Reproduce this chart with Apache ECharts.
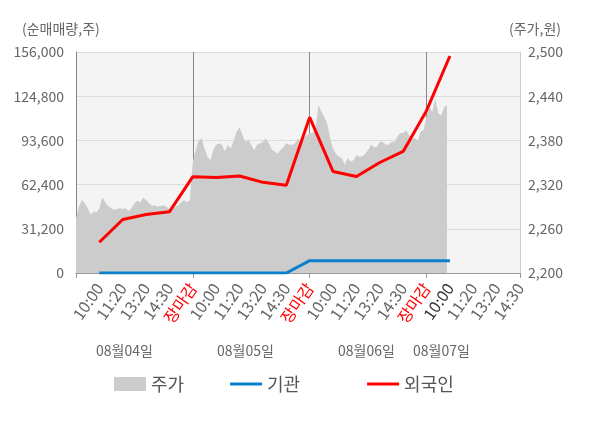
<!DOCTYPE html>
<html>
<head>
    <meta charset="utf-8">
    <title>ECharts</title>
    <script src="https://cdn.jsdelivr.net/npm/echarts@6/dist/echarts.min.js"></script>
</head>
<body style="margin:0">
<div id="main" style="width: 600px;height:428px;"></div>
<script type="text/javascript">
    // x축 슬롯 (0번은 전일 마감 자리, 라벨 없음)
    var timeLabels = ['', '10:00', '11:20', '13:20', '14:30', '장마감',
        '10:00', '11:20', '13:20', '14:30', '장마감',
        '10:00', '11:20', '13:20', '14:30', '장마감',
        '10:00', '11:20', '13:20', '14:30'];
    var dayLabels = ['08월04일', '08월05일', '08월06일', '08월07일'];

    // 순매매량 (주)
    var foreignNet = [null, 21700, 37800, 41300, 43300, 68000, 67400, 68500, 64000, 61900,
        109900, 71600, 68100, 78000, 85800, 114600, 153200, null, null, null];
    var instNet = [null, 0, 0, 0, 0, 0, 0, 0, 0, 0,
        8700, 8700, 8700, 8700, 8700, 8700, 8700, null, null, null];

    // 주가 (원), 하루 40개 샘플
    var priceDay1 = [2274, 2290, 2299, 2295, 2288, 2279, 2283, 2282, 2288, 2303,
        2296, 2291, 2288, 2286, 2287, 2288, 2287, 2288, 2284, 2288,
        2295, 2298, 2296, 2302, 2299, 2295, 2291, 2292, 2290, 2291,
        2292, 2290, 2287, 2288, 2290, 2292, 2296, 2299, 2296, 2299];
    var priceDay2 = [2351, 2367, 2380, 2383, 2369, 2358, 2353, 2367, 2374, 2376,
        2374, 2365, 2374, 2369, 2380, 2392, 2398, 2387, 2378, 2381,
        2374, 2367, 2374, 2376, 2378, 2383, 2376, 2368, 2365, 2362,
        2367, 2371, 2376, 2374, 2374, 2376, 2383, 2376, 2383, 2387];
    var priceDay3 = [2390, 2390, 2396, 2428, 2419, 2412, 2403, 2383, 2369, 2362,
        2358, 2356, 2347, 2356, 2351, 2353, 2360, 2358, 2358, 2362,
        2367, 2374, 2371, 2371, 2378, 2378, 2374, 2374, 2378, 2378,
        2385, 2390, 2390, 2394, 2387, 2383, 2383, 2380, 2392, 2394];
    var priceDay4 = [2412, 2425, 2419, 2437, 2417, 2414, 2425, 2428];

    var SLOTS_PER_DAY = 5;
    var SAMPLES_PER_DAY = 40;

    var pricePoints = [];
    [priceDay1, priceDay2, priceDay3, priceDay4].forEach(function (day, d) {
        day.forEach(function (p, j) {
            pricePoints.push([d * SLOTS_PER_DAY + j * SLOTS_PER_DAY / SAMPLES_PER_DAY, p]);
        });
    });

    var FONT = '"Noto Sans CJK KR", "Noto Sans", sans-serif';
    var legendText = {fontSize: 18, color: '#555', fontFamily: FONT};

    function comma(v) {
        return String(v).replace(/\B(?=(\d{3})+(?!\d))/g, ',');
    }

    var myChart = echarts.init(document.getElementById('main'));

    var option = {
        animation: false,
        textStyle: {fontFamily: FONT},
        grid: {
            left: 76,
            right: 80,
            top: 52,
            bottom: 155,
            show: true,
            backgroundColor: '#f4f4f4',
            borderWidth: 0
        },
        // 주가는 면, 기관/외국인은 선 아이콘
        legend: [{
            left: 114,
            top: 375,
            padding: 0,
            itemWidth: 32,
            itemHeight: 14,
            icon: 'rect',
            textStyle: legendText,
            data: ['주가']
        }, {
            left: 230,
            top: 375,
            padding: 0,
            itemWidth: 32,
            itemHeight: 3,
            itemGap: 67,
            icon: 'rect',
            textStyle: legendText,
            data: ['기관', '외국인']
        }],
        xAxis: [{
            type: 'category',
            data: timeLabels,
            boundaryGap: false,
            axisLine: {lineStyle: {color: '#999'}},
            axisTick: {
                show: true,
                length: 5,
                lineStyle: {color: '#999'},
                interval: function (i) {
                    return i % SLOTS_PER_DAY === 0 || i === timeLabels.length - 1;
                }
            },
            splitLine: {
                show: true,
                lineStyle: {color: '#888'},
                interval: function (i) {
                    return i > 0 && i % SLOTS_PER_DAY === 0;
                }
            },
            axisLabel: {
                interval: 0,
                rotate: 55,
                margin: 12,
                fontSize: 16,
                fontFamily: FONT,
                color: function (value, index) {
                    if (value === '장마감') return '#ff0000';
                    if (index === 16) return '#333';
                    return '#666';
                }
            }
        }, {
            type: 'value',
            min: 0,
            max: timeLabels.length - 1,
            show: false
        }],
        yAxis: [{
            type: 'value',
            min: 0,
            max: 156000,
            interval: 31200,
            axisLine: {show: true, lineStyle: {color: '#888'}},
            axisTick: {show: false},
            splitLine: {lineStyle: {color: '#dcdcdc'}},
            axisLabel: {
                fontSize: 14,
                color: '#666',
                margin: 12,
                fontFamily: FONT,
                formatter: comma
            }
        }, {
            type: 'value',
            min: 2200,
            max: 2500,
            interval: 60,
            position: 'right',
            axisLine: {show: true, lineStyle: {color: '#ccc'}},
            axisTick: {show: false},
            splitLine: {show: false},
            axisLabel: {
                fontSize: 14,
                color: '#666',
                margin: 8,
                fontFamily: FONT,
                formatter: comma
            }
        }],
        graphic: [
            {type: 'text', left: 22, top: 22, style: {text: '(순매매량,주)', fontSize: 14, fill: '#666', fontFamily: FONT}},
            {type: 'text', left: 509, top: 22, style: {text: '(주가,원)', fontSize: 14, fill: '#666', fontFamily: FONT}},
            {type: 'text', left: 96, top: 344, style: {text: dayLabels[0], fontSize: 14, fill: '#666', fontFamily: FONT}},
            {type: 'text', left: 217, top: 344, style: {text: dayLabels[1], fontSize: 14, fill: '#666', fontFamily: FONT}},
            {type: 'text', left: 338, top: 344, style: {text: dayLabels[2], fontSize: 14, fill: '#666', fontFamily: FONT}},
            {type: 'text', left: 413, top: 344, style: {text: dayLabels[3], fontSize: 14, fill: '#666', fontFamily: FONT}}
        ],
        series: [{
            name: '주가',
            type: 'line',
            xAxisIndex: 1,
            yAxisIndex: 1,
            data: pricePoints,
            symbol: 'none',
            lineStyle: {width: 0},
            itemStyle: {color: '#cccccc'},
            areaStyle: {color: '#cccccc', opacity: 1, origin: 'start'}
        }, {
            name: '기관',
            type: 'line',
            data: instNet,
            symbol: 'none',
            lineStyle: {width: 3, color: '#0a80cc'},
            itemStyle: {color: '#0a80cc'}
        }, {
            name: '외국인',
            type: 'line',
            data: foreignNet,
            symbol: 'none',
            lineStyle: {width: 3, color: '#ff0000'},
            itemStyle: {color: '#ff0000'}
        }]
    };

    myChart.setOption(option);
</script>
</body>
</html>
